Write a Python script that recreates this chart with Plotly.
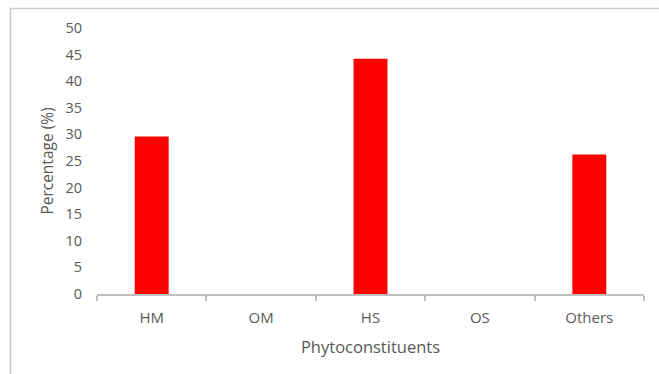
import plotly.graph_objects as go

# Share of phytoconstituent classes (%)
categories = ["HM", "OM", "HS", "OS", "Others"]
percentages = [29.6, 0, 44.2, 0, 26.2]
y_ticks = [0, 5, 10, 15, 20, 25, 30, 35, 40, 45, 50]

W, H = 659, 374
ML, MR, MT, MB = 97, 15, 28, 80
TEXT = "#595959"
FONT = "Open Sans"

fig = go.Figure(
    go.Bar(
        x=categories,
        y=percentages,
        marker=dict(color="#ff0000", line=dict(width=0)),
    )
)

# chart-area frame: top and left edges only (the rest runs off the page)
pw, ph = W - ML - MR, H - MT - MB
fx0 = (10.5 - ML) / pw
fy0 = 1 + (MT - 8.5) / ph
frame = dict(color="#c8c8c8", width=1.5)
fig.add_shape(type="line", xref="paper", yref="paper",
              x0=fx0, x1=(W + 5 - ML) / pw, y0=fy0, y1=fy0, line=frame)
fig.add_shape(type="line", xref="paper", yref="paper",
              x0=fx0, x1=fx0, y0=fy0, y1=-(MB + 5) / ph, line=frame)

fig.update_layout(
    width=W,
    height=H,
    margin=dict(l=ML, r=MR, t=MT, b=MB),
    paper_bgcolor="white",
    plot_bgcolor="white",
    bargap=0.69,
    showlegend=False,
    font=dict(family=FONT, color=TEXT, size=14),
    xaxis=dict(
        showline=True,
        linecolor="#bfbfbf",
        linewidth=1.5,
        ticks="outside",
        tickson="boundaries",
        ticklen=5,
        tickcolor="#bfbfbf",
        tickwidth=1.5,
        showgrid=False,
        ticklabelstandoff=9,
        tickfont=dict(size=15, color=TEXT),
        title=dict(text="Phytoconstituents", font=dict(size=16.5, color=TEXT), standoff=16),
    ),
    yaxis=dict(
        range=[0, 50],
        tickvals=y_ticks,
        showline=False,
        showgrid=False,
        zeroline=False,
        ticks="",
        ticklabelstandoff=14,
        tickfont=dict(size=14.5, color=TEXT),
        title=dict(text="Percentage (%)", font=dict(size=15.5, color=TEXT), standoff=7),
    ),
)

fig.write_html("out.html")
